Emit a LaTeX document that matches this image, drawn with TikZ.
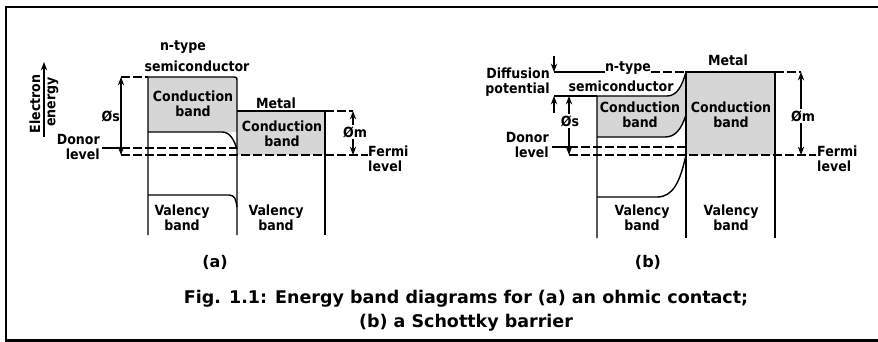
\documentclass[tikz,border=0pt]{standalone}
\usepackage{fontspec}
\newfontfamily\lblfont{DejaVu Sans Condensed}
\newfontfamily\capfont{DejaVu Sans}
\definecolor{BandFill}{HTML}{D6D6D6}
\usetikzlibrary{arrows.meta,calc}

\begin{document}
\begin{tikzpicture}[
  x=1pt, y=-1pt,
  lbl/.style={
    font=\lblfont\bfseries\fontsize{14}{14.5}\selectfont,
    align=center,
    inner sep=1pt
  },
  tag/.style={lbl, font=\capfont\bfseries\fontsize{16}{16}\selectfont},
  band/.style={fill=BandFill, draw=none},
  edge/.style={line width=1.4pt},
  lvl/.style={line width=1.2pt, dash pattern=on 9pt off 3pt},
  dim/.style={Stealth-Stealth, line width=1.2pt},
  tick/.style={-Stealth, line width=1.2pt},
  captext/.style={
    font=\capfont\bfseries\fontsize{17.5}{24}\selectfont,
    align=center
  }
]
\useasboundingbox (0,0) rectangle (878,342);

% =========================================================
% FRAME
% =========================================================

\draw[line width=2.6pt] (885,7) -- (6,7) -- (6,340.5) -- (885,340.5);

% =========================================================
% (a) OHMIC CONTACT
% =========================================================

\fill[band] (148,77) rectangle (237,132);
\fill[band] (237,111) rectangle (325,155);

% semiconductor
\draw[edge] (148,235) -- (148,77) -- (232,77)
  .. controls (237,77) .. (237,82) -- (237,235);
\draw[edge] (148,132) -- (222,132)
  .. controls (230,132) and (234,140) .. (237,149);
\draw[edge] (148,195) -- (229,195)
  .. controls (235,195) and (236,200) .. (237,207);

% metal
\draw[edge] (237,111) -- (325,111) -- (325,235);

% levels
\coordinate (donA) at (102,148);
\coordinate (fermA) at (121,155);
\draw[line width=1.2pt] (donA) -- (121,148);
\draw[lvl] (121,148) -- (237,148);
\draw[lvl] (fermA) -- (368,155);

% work functions
\coordinate (phisAtop) at (121,77);
\coordinate (phimAtop) at (353,111);
\draw[lvl] (phisAtop) -- (148,77);
\draw[dim] (phisAtop) -- (fermA);
\draw[lvl] (325,111) -- (phimAtop);
\draw[dim] (phimAtop) -- (353,155);

% energy axis
\coordinate (axisA) at (44,137);
\draw[tick] (axisA) -- ++(0,-75);
\node[lbl, rotate=90] (electron) at (35,104) {Electron};
\node[lbl, rotate=90] (energy) at (53,102) {energy};

\node[lbl] (ntypeA) at (183,47) {n-type};
\node[lbl] (semiA) at (197,66) {semiconductor};
\node[lbl] (metalA) at (276,103) {Metal};
\node[lbl] (cbsA) at (193,104) {Conduction\\band};
\node[lbl] (cbmA) at (282,134) {Conduction\\band};
\node[lbl] (vbsA) at (182,218) {Valency\\band};
\node[lbl] (vbmA) at (276,218) {Valency\\band};
\node[lbl, anchor=east] (phisA) at (121,116) {Øs};
\node[lbl, fill=white] (phimA) at (355,132) {Øm};
\node[lbl, align=right, anchor=east] (donorA) at (101,147) {Donor\\level};
\node[lbl, align=left, anchor=west] (fermiA) at (367,159) {Fermi\\level};
\node[tag] (capA) at (215,262) {(a)};

% =========================================================
% (b) SCHOTTKY BARRIER
% =========================================================

\fill[band] (597,96) -- (667,96)
  .. controls (677,96) and (682,86) .. (686,72)
  -- (775,72) -- (775,155) -- (686,155) -- (686,115)
  .. controls (681,130) and (675,137) .. (665,137)
  -- (597,137) -- cycle;

% semiconductor
\draw[edge] (597,238) -- (597,96) -- (667,96)
  .. controls (677,96) and (682,86) .. (686,72);
\draw[edge] (597,137) -- (665,137)
  .. controls (675,137) and (681,130) .. (686,115);
\draw[edge] (597,197) -- (657,197)
  .. controls (673,197) and (680,182) .. (686,155);

% metal
\draw[edge] (686,238) -- (686,72) -- (775,72) -- (775,238);

% diffusion potential
\coordinate (difTop) at (554,72);
\coordinate (difBot) at (554,96);
\draw[line width=1.2pt] (difTop) -- (605,72);
\draw[lvl] (651,72) -- (686,72);
\draw[line width=1.2pt] (difBot) -- (597,96);
\draw[tick] (554,56) -- (difTop);
\draw[tick] (554,113) -- (difBot);

% levels
\coordinate (donB) at (552,147);
\coordinate (fermB) at (569,155);
\draw[line width=1.2pt] (donB) -- (569,147);
\draw[lvl] (569,147) -- (686,147);
\draw[lvl] (fermB) -- (816,155);

% work functions
\coordinate (phisBtop) at (569,96);
\coordinate (phimBtop) at (801,72);
\draw[dim] (phisBtop) -- (fermB);
\draw[lvl] (775,72) -- (phimBtop);
\draw[dim] (phimBtop) -- (801,155);

\node[lbl, fill=white] (phisB) at (570,121) {Øs};
\node[lbl, fill=white] (phimB) at (803,116) {Øm};
\node[lbl, fill=white, inner sep=0pt] (ntypeB) at (628,68) {n-type};
\node[lbl] (semiB) at (621,86) {semiconductor};
\node[lbl] (metalB) at (728,60) {Metal};
\node[lbl, align=right, anchor=east] (difB) at (551,82) {Diffusion\\potential};
\node[lbl] (cbsB) at (640,115) {Conduction\\band};
\node[lbl] (cbmB) at (731,115) {Conduction\\band};
\node[lbl] (vbsB) at (642,218) {Valency\\band};
\node[lbl] (vbmB) at (731,218) {Valency\\band};
\node[lbl, align=right, anchor=east] (donorB) at (550,145) {Donor\\level};
\node[lbl, align=left, anchor=west] (fermiB) at (816,159) {Fermi\\level};
\node[tag] (capB) at (648,262) {(b)};

% =========================================================
% CAPTION
% =========================================================

\node[captext] (caption) at (466,311)
{Fig. 1.1: Energy band diagrams for (a) an ohmic contact;\\
(b) a Schottky barrier};

\end{tikzpicture}
\end{document}
